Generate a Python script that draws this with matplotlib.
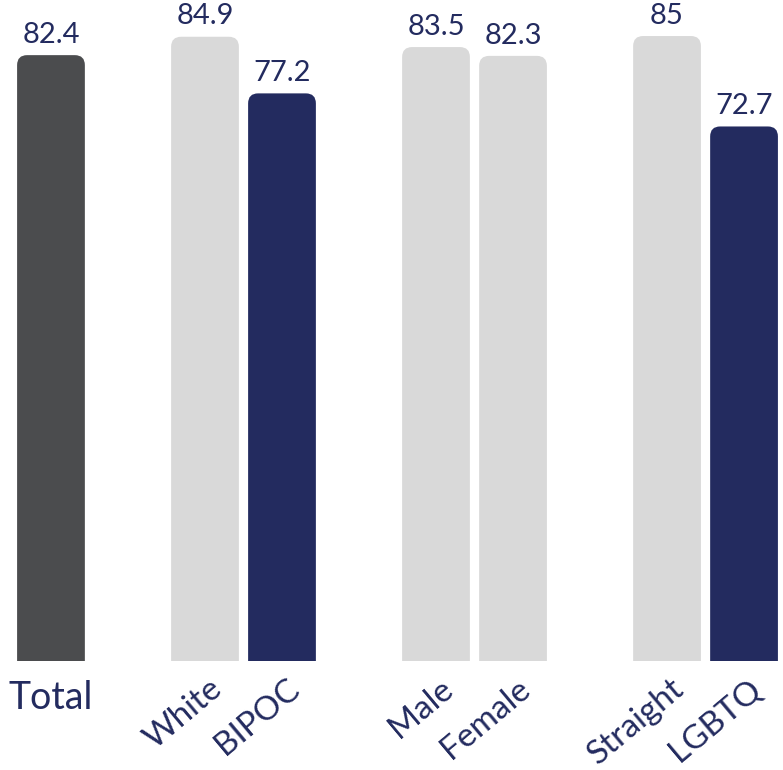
import matplotlib.pyplot as plt
from matplotlib.path import Path
from matplotlib.patches import PathPatch

plt.rcParams['font.family'] = ['Lato', 'DejaVu Sans']

# data
categories = ['Total', 'White', 'BIPOC', 'Male', 'Female', 'Straight', 'LGBTQ']
values = [82.4, 84.9, 77.2, 83.5, 82.3, 85, 72.7]
value_labels = ['82.4', '84.9', '77.2', '83.5', '82.3', '85', '72.7']
positions = [0, 2, 3, 5, 6, 8, 9]
colors = ['#4b4c4e', '#d9d9d9', '#232b5f', '#d9d9d9', '#d9d9d9', '#d9d9d9', '#232b5f']

navy = '#232b5f'

fig = plt.figure(figsize=(7.83, 7.70), dpi=100)
ax = fig.add_axes([0, 109 / 770, 1, 661 / 770])
ax.set_xlim(-0.662, 9.506)
ax.set_ylim(0, 89.9)
ax.axis('off')

width = 0.88
bars = ax.bar(positions, values, width=width, color='none')

# px -> data units for the corner radius
rx = 10 / 77
ry = 10 / 7.35


def rounded_top(x0, w, h):
    x1 = x0 + w
    verts = [(x0, 0), (x0, h - ry), (x0, h), (x0 + rx, h),
             (x1 - rx, h), (x1, h), (x1, h - ry), (x1, 0), (x0, 0)]
    codes = [Path.MOVETO, Path.LINETO, Path.CURVE3, Path.CURVE3,
             Path.LINETO, Path.CURVE3, Path.CURVE3, Path.LINETO, Path.CLOSEPOLY]
    return Path(verts, codes)


for b, c, lab in zip(bars, colors, value_labels):
    p = rounded_top(b.get_x(), b.get_width(), b.get_height())
    ax.add_patch(PathPatch(p, facecolor=c, edgecolor='none'))
    ax.text(b.get_x() + b.get_width() / 2, b.get_height() + 1.0, lab,
            ha='center', va='bottom', fontsize=21, color=navy)

# category labels
for pos, cat in zip(positions, categories):
    if cat == 'Total':
        ax.text(pos, -2.6, cat, ha='center', va='top', fontsize=27, color=navy)
    else:
        ax.text(pos + 0.05, -1.7, cat, ha='right', va='top', fontsize=24,
                color=navy, rotation=40, rotation_mode='anchor')

fig.savefig('out.png', dpi=100)
